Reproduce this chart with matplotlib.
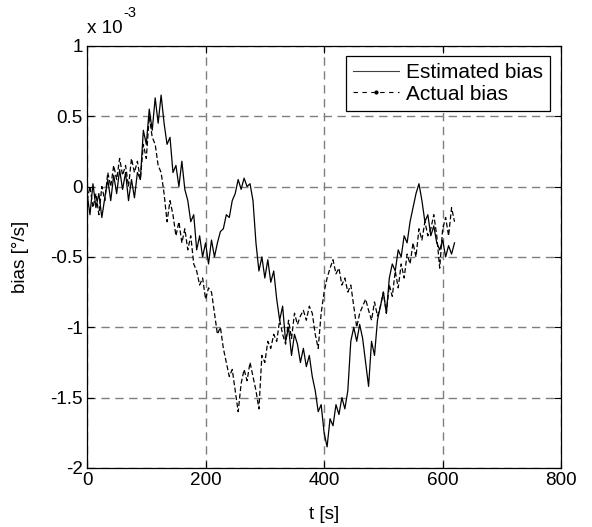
import numpy as np
import matplotlib
matplotlib.use("Agg")
import matplotlib.pyplot as plt
from matplotlib.lines import Line2D

plt.rcParams['font.family'] = ['Liberation Sans', 'DejaVu Sans']

# time axis [s]
t = list(range(0, 625, 5))

# Estimated bias [x1e-3 deg/s]
estimated = [
    -0.05, -0.20, 0.02, -0.15, -0.05, -0.22, -0.08, 0.05, -0.10, 0.08,
    -0.05, 0.12, -0.02, 0.10, -0.10, 0.05, -0.08, 0.10, 0.05, 0.40,
    0.30, 0.55, 0.40, 0.63, 0.45, 0.65, 0.45, 0.30, 0.35, 0.10,
    0.15, 0.00, 0.18, -0.02, -0.10, -0.25, -0.20, -0.45, -0.35, -0.50,
    -0.40, -0.55, -0.38, -0.50, -0.40, -0.32, -0.30, -0.20, -0.22, -0.10,
    -0.05, 0.05, -0.02, 0.06, 0.00, 0.02, -0.10, -0.40, -0.60, -0.50,
    -0.65, -0.52, -0.68, -0.60, -0.80, -0.95, -0.85, -1.10, -1.00, -1.20,
    -1.05, -1.12, -1.25, -1.15, -1.28, -1.20, -1.35, -1.45, -1.60, -1.55,
    -1.75, -1.85, -1.65, -1.70, -1.55, -1.62, -1.50, -1.58, -1.45, -1.10,
    -1.00, -1.10, -0.98, -1.08, -1.25, -1.42, -1.10, -1.20, -0.95, -0.85,
    -0.75, -0.90, -0.65, -0.55, -0.60, -0.45, -0.50, -0.35, -0.40, -0.25,
    -0.15, -0.05, 0.02, -0.10, -0.25, -0.20, -0.35, -0.28, -0.40, -0.45,
    -0.38, -0.50, -0.42, -0.48, -0.40]

# Actual bias [x1e-3 deg/s]
actual = [
    -0.10, 0.00, -0.15, -0.05, -0.20, 0.00, -0.10, 0.10, 0.00, 0.15,
    0.05, 0.20, 0.08, 0.15, 0.00, 0.20, 0.10, 0.18, 0.05, 0.30,
    0.20, 0.50, 0.35, 0.30, 0.15, 0.10, -0.05, -0.25, -0.10, -0.20,
    -0.35, -0.25, -0.40, -0.30, -0.45, -0.35, -0.55, -0.60, -0.70, -0.65,
    -0.80, -0.72, -0.75, -0.90, -1.05, -1.00, -1.15, -1.25, -1.35, -1.30,
    -1.45, -1.60, -1.40, -1.30, -1.38, -1.25, -1.35, -1.45, -1.58, -1.20,
    -1.25, -1.10, -1.15, -1.05, -1.10, -0.95, -1.05, -1.12, -0.95, -1.08,
    -0.90, -0.98, -0.92, -0.88, -0.95, -0.85, -0.90, -1.05, -1.15, -0.90,
    -0.75, -0.65, -0.58, -0.52, -0.62, -0.58, -0.70, -0.65, -0.75, -0.70,
    -0.85, -1.00, -0.90, -0.85, -0.80, -0.88, -0.95, -0.82, -0.92, -0.85,
    -0.75, -0.90, -0.70, -0.78, -0.60, -0.72, -0.55, -0.65, -0.48, -0.55,
    -0.40, -0.50, -0.30, -0.38, -0.25, -0.35, -0.30, -0.20, -0.35, -0.58,
    -0.30, -0.22, -0.35, -0.15, -0.25]

xticks = [0, 200, 400, 600, 800]
yticks = [-2, -1.5, -1, -0.5, 0, 0.5, 1]
ytick_labels = ['-2', '-1.5', '-1', '-0.5', '0', '0.5', '1']

fig = plt.figure(figsize=(5.92, 5.27), dpi=100)
ax = fig.add_axes([0.147, 0.112, 0.801, 0.801])

ax.plot(t, estimated, '-', color='black', lw=0.9, label='Estimated bias')
ax.plot(t, actual, '--', color='black', lw=0.9, dashes=(4, 2), label='Actual bias')

ax.set_xlim(0, 800)
ax.set_ylim(-2, 1)
ax.set_xticks(xticks)
ax.set_xticklabels([str(v) for v in xticks])
ax.set_yticks(yticks)
ax.set_yticklabels(ytick_labels)
ax.tick_params(direction='in', top=True, right=True, length=5, width=0.8,
               labelsize=13.6, pad=3)
for s in ax.spines.values():
    s.set_linewidth(0.9)
ax.grid(True, linestyle=(0, (6, 4)), color='#7f7f7f', linewidth=1.0)

ax.set_xlabel('t [s]', fontsize=13.6, labelpad=12)
ax.set_ylabel('bias [°/s]', fontsize=13.6, labelpad=15)
ax.text(0.0, 1.031, 'x 10', transform=ax.transAxes, fontsize=13.6,
        ha='left', va='baseline')
ax.text(0.076, 1.068, '-3', transform=ax.transAxes, fontsize=10.5,
        ha='left', va='baseline')

handles = [Line2D([], [], color='#404040', lw=0.8, ls='-'),
           Line2D([], [], color='black', lw=0.8, ls='--', dashes=(4, 4),
                  marker='.', markersize=4)]
leg = ax.legend(handles, ['Estimated bias', 'Actual bias'], loc='upper right',
                bbox_to_anchor=(0.977, 0.976), fontsize=15, frameon=True,
                fancybox=False, edgecolor='black', framealpha=1,
                borderpad=0.35, handlelength=2.2, handletextpad=0.35,
                labelspacing=0.12, numpoints=1, borderaxespad=0)
leg.get_frame().set_linewidth(0.9)

fig.savefig('out.png', dpi=100)
